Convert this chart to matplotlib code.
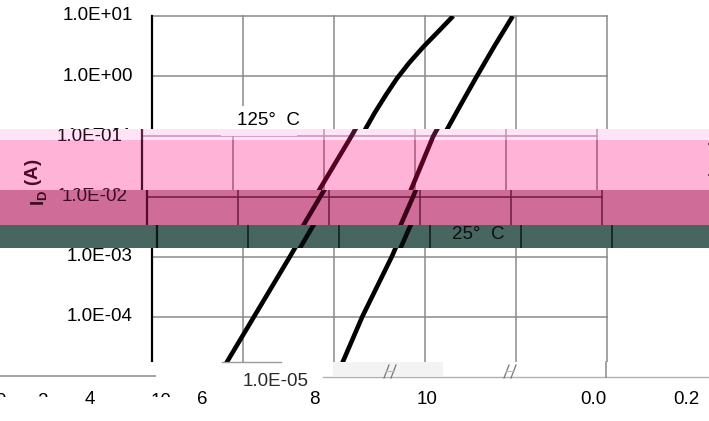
import matplotlib
matplotlib.use("Agg")
import matplotlib.pyplot as plt
from matplotlib.patches import Rectangle
from matplotlib.lines import Line2D
from matplotlib.transforms import blended_transform_factory, offset_copy

plt.rcParams["font.family"] = ["Liberation Sans", "DejaVu Sans"]
plt.rcParams["mathtext.fontset"] = "custom"
plt.rcParams["mathtext.rm"] = "Liberation Sans"
plt.rcParams["mathtext.bf"] = "Liberation Sans:bold"
plt.rcParams["mathtext.it"] = "Liberation Sans:italic"

# Transfer characteristic: drain current vs gate-source voltage
vgs_25 = [6.05, 6.62, 7.27, 7.85, 8.40, 8.78, 9.14, 9.53, 9.93]
id_25 = [1.0e-5, 1.0e-4, 1.0e-3, 1.0e-2, 1.0e-1, 0.33, 1.0, 3.2, 10.0]
vgs_125 = [3.45, 4.24, 5.03, 5.81, 6.60, 6.90, 7.15, 7.38, 7.65, 7.96,
           8.30, 8.62]
id_125 = [1.0e-5, 1.0e-4, 1.0e-3, 1.0e-2, 1.0e-1, 0.25, 0.50, 0.91, 1.66,
          3.05, 5.6, 10.0]

vgs_grid = [2, 4, 6, 8, 10, 12]
id_ticks = [1e-5, 1e-4, 1e-3, 1e-2, 1e-1, 1e0, 1e1]
id_tick_labels = ["1.0E-05", "1.0E-04", "1.0E-03", "1.0E-02",
                  "1.0E-01", "1.0E+00", "1.0E+01"]
y_label = r"$\mathbf{I_D}$ (A)"
curve_labels = ["25°  C\u2002", "125°  C"]
curve_label_at = [(8.48, 2.3e-3), (3.87, 0.18)]

x_tick_labels = ["4", "6", "8", "10", "0.0", "0.2"]
x_tick_px = [90, 202, 314, 427, 593, 686]
x_cut_labels = ["0", "2", "10"]
x_cut_px = [1, 43, 161]

W, H = 709, 421
FS = 13.5
fig = plt.figure(figsize=(W / 100, H / 100), dpi=100)
fig.patch.set_facecolor("white")


def fx(x):
    return x / W


def fy(y):
    return 1 - y / H


AX_L, AX_R, AX_T, AX_B = 152, 607, 16, 377


def panel(dx, pal, zorder, clip=None):
    ax = fig.add_axes([fx(AX_L + dx), fy(AX_B), (AX_R - AX_L) / W,
                       (AX_B - AX_T) / H], zorder=zorder)
    ax.set_xlim(vgs_grid[0], vgs_grid[-1])
    ax.set_yscale("log")
    ax.set_ylim(id_ticks[0], id_ticks[-1])
    ax.set_axis_off()
    ax.patch.set_visible(False)
    arts = []
    for v in vgs_grid[1:]:
        arts.append(ax.axvline(v, color=pal["grid"], lw=1.1, clip_on=False))
    for i in id_ticks[1:]:
        arts.append(ax.axhline(i, color=pal["grid"], lw=1.1, clip_on=False))
    arts.append(ax.axvline(vgs_grid[0], color=pal["axis"], lw=1.6,
                           clip_on=False))
    for vx, iy in ((vgs_25, id_25), (vgs_125, id_125)):
        arts += ax.plot(vx, iy, color=pal["curve"], lw=3.3,
                        solid_capstyle="butt", solid_joinstyle="round")
    tick_tr = offset_copy(blended_transform_factory(ax.transAxes, ax.transData),
                          fig=fig, x=-19, y=0, units="dots")
    for val, lab in zip(id_ticks, id_tick_labels):
        arts.append(ax.text(0, val, lab, transform=tick_tr, ha="right",
                            va="center", fontsize=FS, color=pal["text"]))
    ylab_tr = offset_copy(ax.transAxes, fig=fig, x=-108, y=0, units="dots")
    arts.append(ax.text(0, 0.54, y_label, transform=ylab_tr, rotation=90,
                        ha="center", va="center", fontsize=FS,
                        fontweight="bold", color=pal["label"]))
    for lab, (lx, ly) in zip(curve_labels, curve_label_at):
        arts.append(ax.text(lx, ly, lab, ha="left", va="center", fontsize=FS,
                            color=pal["text"],
                            bbox=dict(boxstyle="square,pad=0.35",
                                      facecolor=pal["bg"], edgecolor="none")))
    if clip is not None:
        for a in arts:
            a.set_clip_on(True)
            a.set_clip_path(clip)
    return ax


main_pal = dict(bg="white", grid="#8a8a8a", axis="black", curve="black",
                text="black", label="#222222")
panel(0, main_pal, zorder=0)

# colour bands across the middle of the figure, each with its own offset copy
bands = [
    (129, 140, -10, dict(bg="#FFE3F7", grid="#C98FB0", axis="#5E2040",
                         curve="#4A0F2A", text="#2A0A18", label="#4A0C2A")),
    (140, 190, -10, dict(bg="#FFB3D6", grid="#A65A80", axis="#4C0F2C",
                         curve="#55001F", text="#4A0C2A", label="#4A0C2A")),
    (190, 225, -5, dict(bg="#CF6D98", grid="#6E1A40", axis="#5A0A30",
                        curve="#3A0018", text="#3B0C22", label="#3B0C22")),
    (225, 248, 5, dict(bg="#476660", grid="#0E1A18", axis="#0E1A18",
                       curve="#050A08", text="#081010", label="#081010")),
]
for k, (y0, y1, dx, pal) in enumerate(bands):
    fig.add_artist(Rectangle((0, fy(y1)), 1, (y1 - y0) / H,
                             transform=fig.transFigure, facecolor=pal["bg"],
                             edgecolor="none", zorder=1))
    clip = Rectangle((0, fy(y1)), 1, (y1 - y0) / H, transform=fig.transFigure)
    panel(dx, pal, zorder=2 + k * 0.01, clip=clip)

pink_clip = Rectangle((0, fy(190)), 1, 50 / H, transform=fig.transFigure)
t = fig.text(fx(714), fy(160), "(mΩ)", rotation=270, ha="center",
             va="center", fontsize=FS, color="#5A1030", zorder=3)
t.set_clip_on(True)
t.set_clip_path(pink_clip)

# bottom strip
fig.add_artist(Rectangle((0, 0), 1, fy(362), transform=fig.transFigure,
                         facecolor="white", edgecolor="none", zorder=5))
fig.add_artist(Rectangle((fx(333), fy(376)), 110 / W, 14 / H,
                         transform=fig.transFigure, facecolor="#F3F3F3",
                         edgecolor="none", zorder=5.5))


def seg(xs, ys, color, lw):
    fig.add_artist(Line2D([fx(x) for x in xs], [fy(y) for y in ys],
                          transform=fig.transFigure, color=color, lw=lw,
                          zorder=6))


seg([0, 155], [376, 376], "#9A9A9A", 1.3)
seg([222, 281], [362, 362], "#9A9A9A", 1.0)
seg([323, 709], [377, 377], "#B0B0B0", 1.0)
seg([606, 606], [362, 377], "#8A8A8A", 1.1)
for bx in (388, 508):
    seg([bx - 4, bx + 1], [378, 365], "#777777", 0.9)
    seg([bx + 3, bx + 8], [378, 365], "#777777", 0.9)
    seg([bx - 2, bx + 6], [371, 371], "#BBBBBB", 0.8)

fig.text(fx(276), fy(381), "1.0E-05", ha="center", va="center", fontsize=FS,
         color="#2A2A2A", zorder=7)
for lab, xp in zip(x_tick_labels, x_tick_px):
    fig.text(fx(xp), fy(400), lab, ha="center", va="center", fontsize=FS,
             color="black", zorder=7)
cut_clip = Rectangle((0, fy(397)), 1, 10 / H, transform=fig.transFigure)
for lab, xp in zip(x_cut_labels, x_cut_px):
    t = fig.text(fx(xp), fy(401), lab, ha="center", va="center", fontsize=FS,
                 color="black", zorder=7)
    t.set_clip_on(True)
    t.set_clip_path(cut_clip)

fig.savefig("out.png", dpi=100, facecolor="white")
